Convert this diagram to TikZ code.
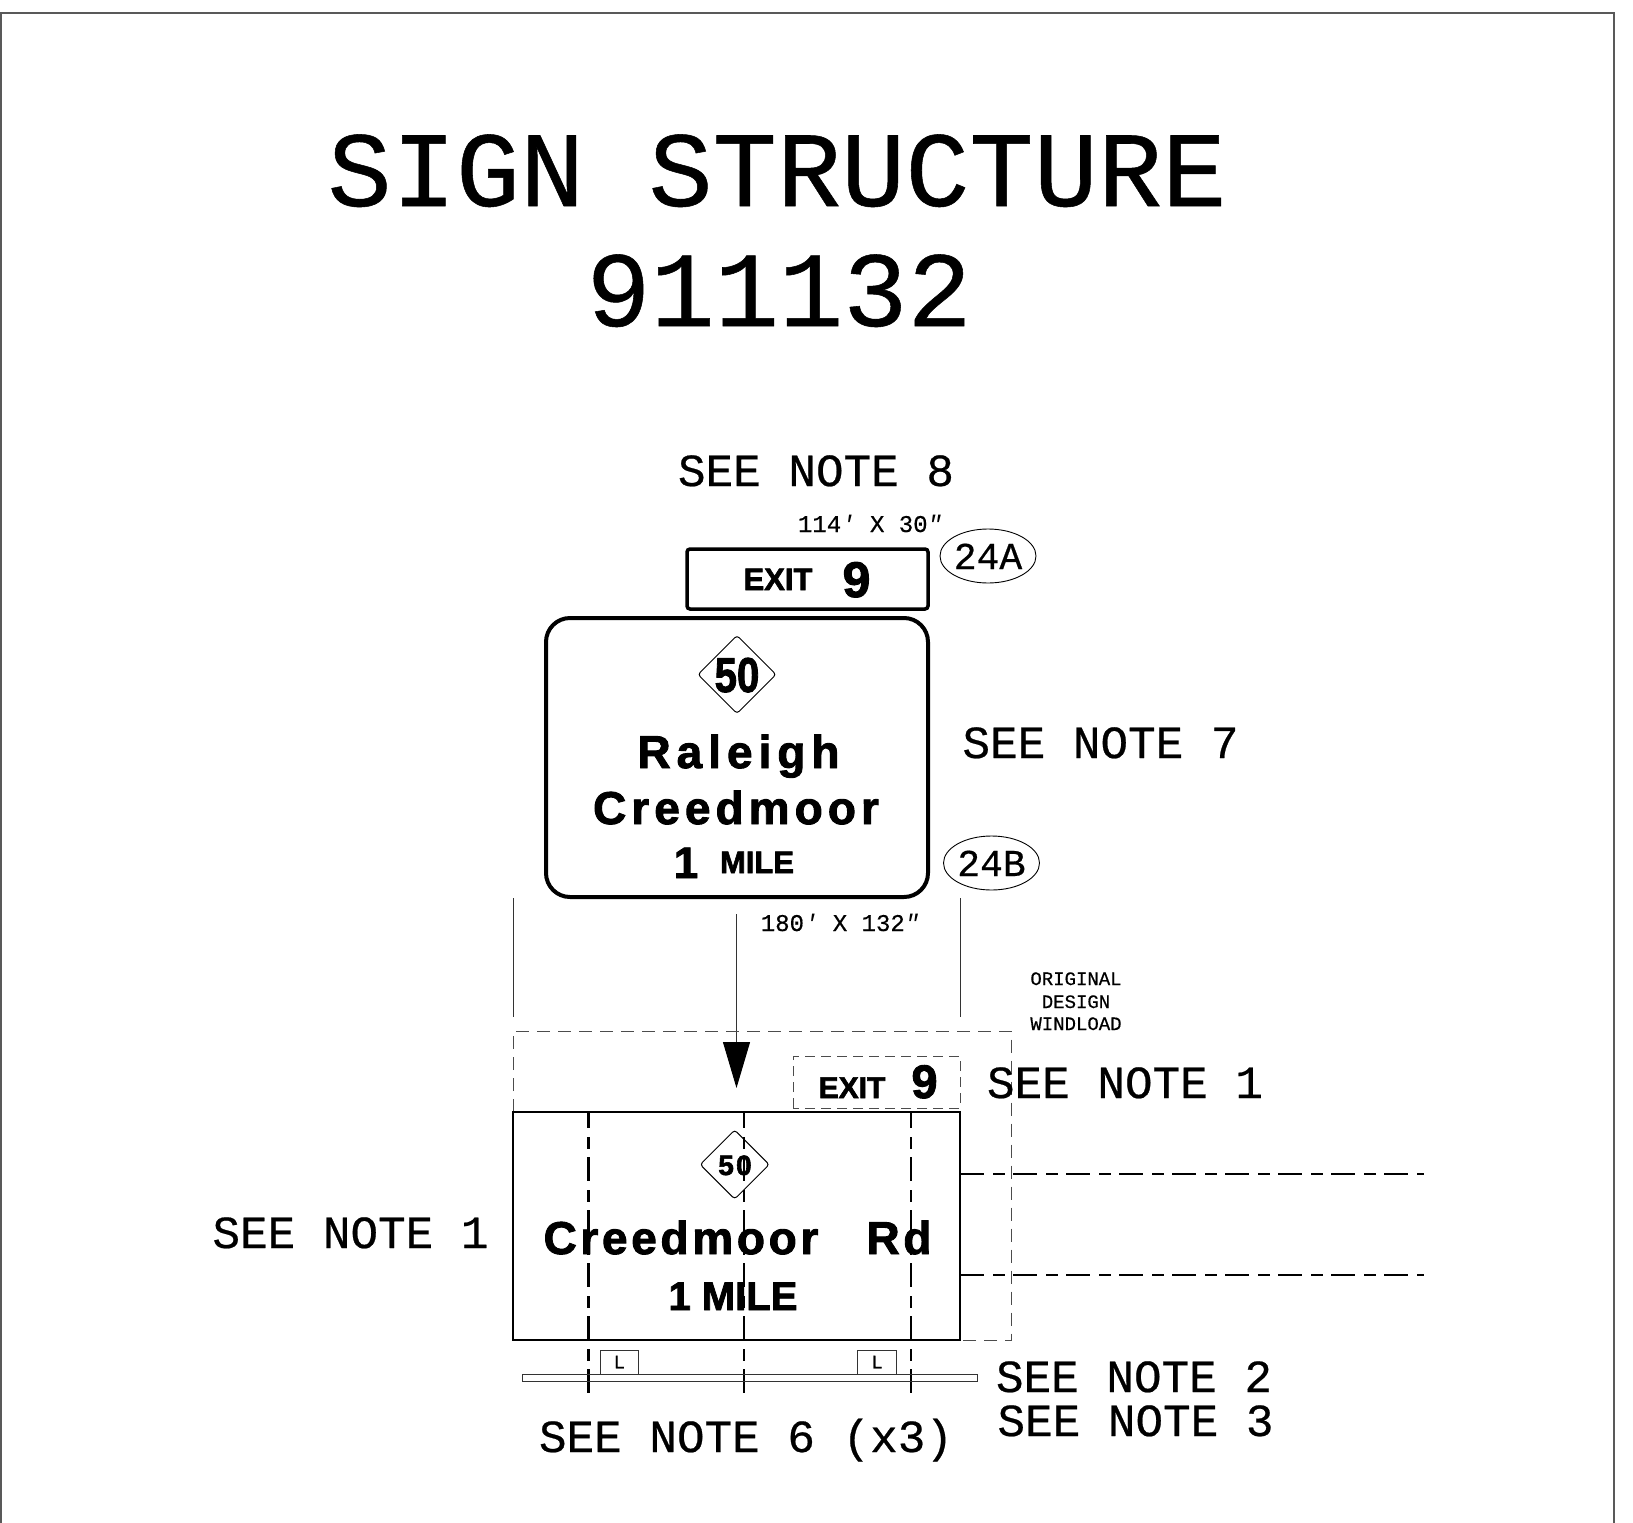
\documentclass[tikz,border=0pt]{standalone}
\usepackage{fontspec}
\setmainfont{Liberation Mono}[FakeBold=0.5]
\usetikzlibrary{shapes.geometric,arrows.meta}
\newfontfamily\hwy{Liberation Sans Bold}[LetterSpace=11,FakeBold=2]
\newfontfamily\hwyw{Liberation Sans Bold}[LetterSpace=13,FakeBold=2]
\newfontfamily\hwyc{Liberation Sans Bold}[LetterSpace=8,FakeBold=2]
\newfontfamily\hwyb{Liberation Sans Bold}[FakeBold=2]
\newfontfamily\primes{Liberation Mono Italic}
\newcommand{\fsz}[1]{\fontsize{#1}{#1}\selectfont}
\tikzset{
 x=1pt,y=-1pt,
 every node/.style={inner sep=0pt,outer sep=0pt,text=black},
 titletext/.style={font=\fsz{107},anchor=base},
 notetext/.style={font=\fsz{46},anchor=base},
 dimtext/.style={font=\fsz{24},anchor=base},
 windtext/.style={font=\fsz{19},anchor=base},
 sign/.style={font=\hwy\fsz{#1},anchor=base},
 signwide/.style={font=\hwyw\fsz{#1},anchor=base},
 signtight/.style={font=\hwyc\fsz{#1},anchor=base},
 signplain/.style={font=\hwyb\fsz{#1},anchor=base},
 frameline/.style={draw=black!65,line width=1.3},
 thinline/.style={draw=black!80,line width=1},
 dashthin/.style={draw=black!70,line width=1,dash pattern=on 13 off 8},
 dashbox/.style={draw=black!70,line width=1,dash pattern=on 10 off 6},
 centerdash/.style={draw=black,line width=2.8,dash pattern=on 24 off 9 on 12 off 8},
 postdash/.style={centerdash,dash phase=8},
 diamondshape/.style={draw=black,line width=1,rounded corners=3},
}
\begin{document}
\begin{tikzpicture}
\useasboundingbox (0,0) rectangle (1633,1523);
\fill[white] (0,0) rectangle (1633,1523);
% frame
\coordinate (fbl) at (1,1523);
\coordinate (ftl) at (1,13);
\coordinate (ftr) at (1614,13);
\coordinate (fbr) at (1614,1523);
\draw[frameline] (fbl)--(ftl)--(ftr)--(fbr);
% titles
\node[titletext] (t1) at (777,206) {SIGN STRUCTURE};
\node[titletext] (t2) at (779,326) {911132};
\node[notetext] (n8) at (816,486) {SEE NOTE 8};
\node[dimtext] (d1) at (870,532) {114{\primes ′} X 30{\primes ″}};
% upper signs
\draw[line width=3.5,rounded corners=3] (687,549) rectangle (928,609);
\node[signplain=31] (ex1) at (778,590) {EXIT};
\node[signplain=50] (nine1) at (856.5,597) {9};
\draw[line width=4,rounded corners=24] (546,618) rectangle (928,897);
\draw[diamondshape] (737,635.5)--(776,674.5)--(737,713.5)--(698,674.5)--cycle;
\node[signplain=49,xscale=0.82,transform shape] (s50a) at (737,692) {50};
\node[signwide=46] (ral) at (738.5,768) {Raleigh};
\node[sign=46] (cre) at (736,824) {Creedmoor};
\node[signplain=44] (one) at (686,878) {1};
\node[signplain=31] (mile) at (757,873) {MILE};
\node[draw,ellipse,minimum width=96,minimum height=54,line width=0.9] (a24) at (988,556) {};
\node[draw,ellipse,minimum width=96,minimum height=54,line width=0.9] (b24) at (991.5,863) {};
\node[font=\fsz{38},anchor=base] at (988,569) {24A};
\node[font=\fsz{38},anchor=base] at (991.5,876) {24B};
\node[notetext] (n7) at (1100.5,758) {SEE NOTE 7};
% leaders
\coordinate (l1) at (513,898);\coordinate (l2) at (513,1017);
\coordinate (r1) at (960,898);\coordinate (r2) at (960,1017);
\draw[thinline] (l1)--(l2);\draw[thinline] (r1)--(r2);
\coordinate (ar1) at (736.5,914);\coordinate (ar2) at (736.5,1088);
\draw[thinline,-{Triangle[length=46,width=27,fill=black,color=black]}] (ar1)--(ar2);
\node[dimtext] (d2) at (840,931) {180{\primes ′} X 132{\primes ″}};
\node[windtext] at (1076,985) {ORIGINAL};
\node[windtext] at (1076,1008) {DESIGN};
\node[windtext] at (1076,1030) {WINDLOAD};
% dashed windload outline
\coordinate (w1) at (513,1112);\coordinate (w2) at (513,1031);\coordinate (w3) at (1011.5,1031);\coordinate (w4) at (1011.5,1340);\coordinate (w5) at (960,1340);
\draw[dashthin] (w1)--(w2)--(w3)--(w4)--(w5);
\draw[dashbox] (793,1108) rectangle (960,1056);
\node[signplain=30] (ex2) at (852,1098) {EXIT};
\node[signplain=47] (nine2) at (924.5,1098) {9};
\node[notetext] (n1r) at (1125,1098) {SEE NOTE 1};
% main sign
\draw[line width=2] (513,1112) rectangle (960,1340);
\node[notetext] (n1l) at (350.5,1248) {SEE NOTE 1};
\draw[diamondshape] (734.7,1130)--(769.2,1164.5)--(734.7,1199)--(700.2,1164.5)--cycle;
\node[signtight=28] (s50b) at (735,1175) {50};
\node[signtight=46] (cre2) at (681,1254) {Creedmoor};
\node[signtight=46] (rd) at (899,1254) {Rd};
\node[signplain=40] (m2) at (733,1310) {1 MILE};
% posts
\foreach \px/\nm in {588.6/p1,744/p2,911/p3}{
 \coordinate (\nm a) at (\px,1112);\coordinate (\nm b) at (\px,1393);
 \draw[postdash] (\nm a)--(\nm b);
}
\coordinate (h1a) at (960,1174);\coordinate (h1b) at (1424,1174);
\coordinate (h2a) at (960,1275);\coordinate (h2b) at (1424,1275);
\draw[centerdash] (h1a)--(h1b);
\draw[centerdash] (h2a)--(h2b);
% beam and lights
\draw[thinline] (522,1374) rectangle (977.5,1381);
\node[draw=black!80,line width=1,minimum width=38.5,minimum height=24,font=\fsz{19}] (la) at (619.3,1362) {L};
\node[draw=black!80,line width=1,minimum width=38.5,minimum height=24,font=\fsz{19}] (lb) at (877,1362) {L};
\node[notetext] (n2) at (1134,1392) {SEE NOTE 2};
\node[notetext] (n3) at (1135.5,1436) {SEE NOTE 3};
\node[notetext] (n6) at (746,1452) {SEE NOTE 6 (x3)};
\end{tikzpicture}
\end{document}
